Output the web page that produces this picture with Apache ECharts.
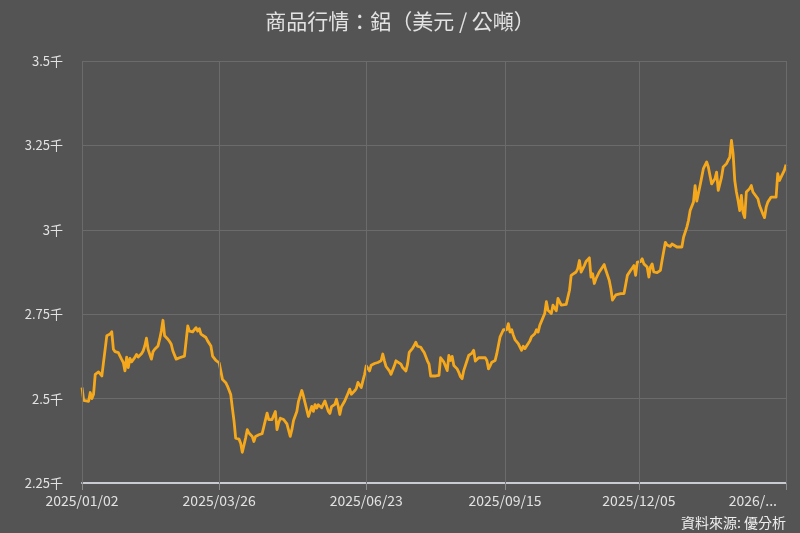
<!DOCTYPE html>
<html><head><meta charset="utf-8">
<script src="https://cdn.jsdelivr.net/npm/echarts@6/dist/echarts.min.js"></script>
<style>html,body{margin:0;padding:0;background:#545454;}#c{width:800px;height:533px;}</style>
</head><body><div id="c"></div>
<script>
const titleText = '商品行情：鋁（美元 / 公噸）';
const sourceText = '資料來源: 優分析';
const tickDates = ['2025-01-02','2025-03-26','2025-06-23','2025-09-15','2025-12-05','2026-03-04'];
const tickLabels = ['2025/01/02','2025/03/26','2025/06/23','2025/09/15','2025/12/05','2026/...'];
const yMin = 2250, yMax = 3500, yStep = 250;

const dates = [
'2025-01-02','2025-01-03','2025-01-06','2025-01-07','2025-01-08','2025-01-09','2025-01-10','2025-01-12','2025-01-13','2025-01-14',
'2025-01-17','2025-01-19','2025-01-20','2025-01-21','2025-01-22','2025-01-24','2025-01-25','2025-01-26','2025-01-27','2025-01-28',
'2025-01-29','2025-01-30','2025-01-31','2025-02-01','2025-02-03','2025-02-04','2025-02-05','2025-02-07','2025-02-08','2025-02-09',
'2025-02-10','2025-02-11','2025-02-13','2025-02-14','2025-02-15','2025-02-17','2025-02-18','2025-02-19','2025-02-20','2025-02-21',
'2025-02-23','2025-02-24','2025-02-25','2025-02-26','2025-02-27','2025-02-28','2025-03-02','2025-03-05','2025-03-07','2025-03-08',
'2025-03-10','2025-03-11','2025-03-12','2025-03-13','2025-03-14','2025-03-15','2025-03-16',
'2025-03-18','2025-03-19','2025-03-20','2025-03-21','2025-03-22','2025-03-23','2025-03-24','2025-03-26','2025-03-27','2025-03-28',
'2025-03-30','2025-03-31','2025-04-02','2025-04-03','2025-04-04','2025-04-05','2025-04-06','2025-04-07','2025-04-08','2025-04-09',
'2025-04-10','2025-04-11','2025-04-12','2025-04-13','2025-04-15','2025-04-16','2025-04-17','2025-04-19','2025-04-21','2025-04-22',
'2025-04-24','2025-04-25','2025-04-27','2025-04-28','2025-04-29','2025-04-30','2025-05-01','2025-05-02','2025-05-04','2025-05-05',
'2025-05-06','2025-05-08','2025-05-09','2025-05-10','2025-05-12','2025-05-13','2025-05-15','2025-05-16','2025-05-17','2025-05-18',
'2025-05-19','2025-05-21','2025-05-22','2025-05-23','2025-05-24','2025-05-25',
'2025-05-26','2025-05-27','2025-05-29','2025-05-31','2025-06-01','2025-06-02','2025-06-04','2025-06-05','2025-06-06','2025-06-07',
'2025-06-08','2025-06-10','2025-06-12','2025-06-13','2025-06-14','2025-06-16','2025-06-17','2025-06-18','2025-06-20','2025-06-21',
'2025-06-22','2025-06-23','2025-06-25','2025-06-26','2025-06-28','2025-06-30','2025-07-02','2025-07-03','2025-07-04','2025-07-05',
'2025-07-07','2025-07-08','2025-07-10','2025-07-11','2025-07-12','2025-07-14','2025-07-15','2025-07-17','2025-07-18','2025-07-19',
'2025-07-21','2025-07-22','2025-07-23','2025-07-24','2025-07-26','2025-07-27','2025-07-28','2025-07-30','2025-07-31','2025-08-01',
'2025-08-02','2025-08-04','2025-08-06',
'2025-08-07','2025-08-08','2025-08-09','2025-08-11','2025-08-12','2025-08-13','2025-08-14','2025-08-15','2025-08-17','2025-08-18',
'2025-08-19','2025-08-20','2025-08-21','2025-08-23','2025-08-24','2025-08-26','2025-08-27','2025-08-28','2025-08-30','2025-09-01',
'2025-09-03','2025-09-04','2025-09-05','2025-09-06','2025-09-07','2025-09-09','2025-09-10','2025-09-11','2025-09-12','2025-09-14',
'2025-09-16','2025-09-17','2025-09-18','2025-09-19','2025-09-20','2025-09-21','2025-09-23','2025-09-25','2025-09-26','2025-09-27',
'2025-09-29','2025-09-30','2025-10-01','2025-10-03','2025-10-04','2025-10-05','2025-10-06','2025-10-07','2025-10-09','2025-10-10',
'2025-10-11','2025-10-13','2025-10-14','2025-10-16','2025-10-17',
'2025-10-19','2025-10-20','2025-10-22','2025-10-24','2025-10-25','2025-10-26','2025-10-28','2025-10-29','2025-10-30','2025-10-31',
'2025-11-02','2025-11-03','2025-11-05','2025-11-06','2025-11-07','2025-11-08','2025-11-09','2025-11-11','2025-11-13','2025-11-14',
'2025-11-15','2025-11-17','2025-11-18','2025-11-19','2025-11-21','2025-11-22','2025-11-24','2025-11-25','2025-11-26','2025-11-28',
'2025-11-29','2025-11-30','2025-12-01','2025-12-02','2025-12-03','2025-12-04','2025-12-06','2025-12-07','2025-12-08','2025-12-10',
'2025-12-11','2025-12-12','2025-12-13','2025-12-14','2025-12-16','2025-12-18','2025-12-19','2025-12-21','2025-12-22','2025-12-24',
'2025-12-25','2025-12-26',
'2025-12-28','2025-12-29','2025-12-31','2026-01-01','2026-01-03','2026-01-04','2026-01-05','2026-01-07','2026-01-08','2026-01-09',
'2026-01-10','2026-01-11','2026-01-12','2026-01-13','2026-01-15','2026-01-16','2026-01-17','2026-01-18','2026-01-20','2026-01-21',
'2026-01-22','2026-01-23','2026-01-24','2026-01-25','2026-01-27','2026-01-28','2026-01-29','2026-01-30','2026-01-31','2026-02-01',
'2026-02-02','2026-02-03','2026-02-04','2026-02-05','2026-02-06','2026-02-07','2026-02-08','2026-02-10','2026-02-11','2026-02-12',
'2026-02-13','2026-02-15','2026-02-16','2026-02-18','2026-02-19','2026-02-20','2026-02-21','2026-02-23','2026-02-24','2026-02-26',
'2026-02-27','2026-02-28','2026-03-01','2026-03-03','2026-03-04'
];
const prices = [
2533,2495,2492,2518,2500,2513,2572,2579,2582,2567,
2686,2691,2698,2646,2639,2636,2626,2616,2607,2582,
2623,2592,2619,2609,2622,2631,2623,2633,2641,2656,
2679,2646,2617,2639,2646,2656,2676,2700,2732,2686,
2676,2669,2661,2641,2638,2617,2621,2626,2715,2700,
2698,2693,2710,2700,2707,2691,2689,
2681,2671,2676,2656,2626,2621,2613,2606,2601,2557,
2547,2537,2512,2472,2433,2383,2378,2380,2368,2341,
2345,2383,2408,2398,2388,2373,2388,2393,2396,2401,
2457,2438,2438,2440,2462,2408,2428,2442,2438,2433,
2425,2388,2408,2435,2462,2492,2524,2507,2487,2467,
2447,2477,2462,2482,2472,2482,
2486,2473,2493,2463,2456,2476,2483,2498,2478,2453,
2476,2493,2516,2528,2513,2523,2530,2548,2533,2553,
2572,2597,2582,2599,2604,2607,2612,2632,2612,2595,
2582,2572,2597,2612,2607,2602,2592,2582,2602,2637,
2649,2657,2667,2655,2652,2644,2637,2612,2602,2567,
2572,2567,2569,
2621,2618,2608,2583,2628,2613,2625,2598,2588,2578,
2565,2559,2583,2613,2628,2635,2643,2611,2621,2621,
2621,2613,2588,2598,2608,2613,2633,2633,2683,2704,
2704,2722,2697,2704,2688,2675,2663,2643,2655,2648,
2663,2671,2683,2692,2704,2697,2717,2722,2752,2787,
2762,2752,2777,2760,2797,
2777,2777,2779,2821,2865,2867,2875,2885,2909,2875,
2894,2906,2917,2860,2870,2841,2855,2875,2890,2897,
2880,2851,2826,2792,2807,2807,2811,2816,2811,2865,
2867,2880,2887,2894,2865,2904,2906,2914,2899,2890,
2860,2890,2899,2875,2873,2880,2909,2963,2955,2951,
2958,2958,
2949,2951,2949,2978,3008,3028,3057,3082,3131,3085,
3087,3131,3156,3181,3201,3186,3161,3136,3151,3171,
3117,3119,3156,3186,3196,3206,3215,3265,3225,3146,
3112,3087,3057,3102,3052,3036,3112,3122,3131,3112,
3117,3092,3072,3047,3036,3067,3082,3097,3092,3097,
3166,3146,3156,3176,3193
];

function toTs(s) { const p = s.split('-').map(Number); return new Date(p[0], p[1] - 1, p[2]).getTime(); }
const tickTs = tickDates.map(toTs);
const seriesData = dates.map((d, i) => [toTs(d), prices[i]]);

const gridColor = '#6b6b6b';
const textColor = '#e2e2e2';
const font = '"Noto Sans CJK TC", "Noto Sans", sans-serif';

const chart = echarts.init(document.getElementById('c'), null, { renderer: 'canvas' });
chart.setOption({
  backgroundColor: '#545454',
  animation: false,
  textStyle: { fontFamily: font },
  title: {
    text: titleText, left: 'center', top: 6,
    textStyle: { color: textColor, fontSize: 21, fontWeight: 'normal', fontFamily: font }
  },
  grid: { left: 82, right: 14, top: 61, bottom: 50, containLabel: false },
  xAxis: {
    type: 'value',
    min: tickTs[0], max: tickTs[tickTs.length - 1],
    scale: true,
    axisLine: { show: true, lineStyle: { color: '#c8ccd2', width: 2 } },
    axisTick: { show: true, length: 7, customValues: tickTs, lineStyle: { color: '#8a8a8a' } },
    splitLine: { show: false },
    axisLabel: {
      customValues: tickTs,
      showMinLabel: true, showMaxLabel: true,
      color: textColor, fontSize: 14, margin: 11, fontFamily: font,
      alignMaxLabel: 'right',
      formatter: function (v) {
        for (let i = 0; i < tickTs.length; i++) {
          if (Math.abs(tickTs[i] - v) < 43200000) return i === tickTs.length - 1 ? '{last|' + tickLabels[i] + '}' : tickLabels[i];
        }
        return '';
      },
      rich: { last: { color: textColor, fontSize: 14, fontFamily: font, padding: [0, 9, 0, 0] } }
    }
  },
  yAxis: {
    type: 'value', min: yMin, max: yMax, interval: yStep,
    axisLine: { show: false }, axisTick: { show: false },
    splitLine: { show: true, lineStyle: { color: gridColor, width: 1 } },
    axisLabel: {
      color: textColor, fontSize: 13, margin: 19, fontFamily: font,
      formatter: v => (v / 1000) + '千'
    }
  },
  graphic: [{
    type: 'text', right: 14, bottom: 3,
    style: { text: sourceText, fill: '#eeeeee', fontSize: 14, fontFamily: font }
  }],
  series: [
    {
      type: 'line', data: [], z: 1, silent: true,
      markLine: {
        symbol: 'none', silent: true, animation: false,
        label: { show: false },
        lineStyle: { color: gridColor, type: 'solid', width: 1 },
        emphasis: { disabled: true },
        data: tickTs.map(t => ({ xAxis: t }))
      }
    },
    {
      type: 'line', data: seriesData, z: 3,
      showSymbol: false, symbol: 'none',
      lineStyle: { color: '#f5a81c', width: 2.8, join: 'round' },
      itemStyle: { color: '#f5a81c' }
    }
  ]
});
</script>
</body></html>
